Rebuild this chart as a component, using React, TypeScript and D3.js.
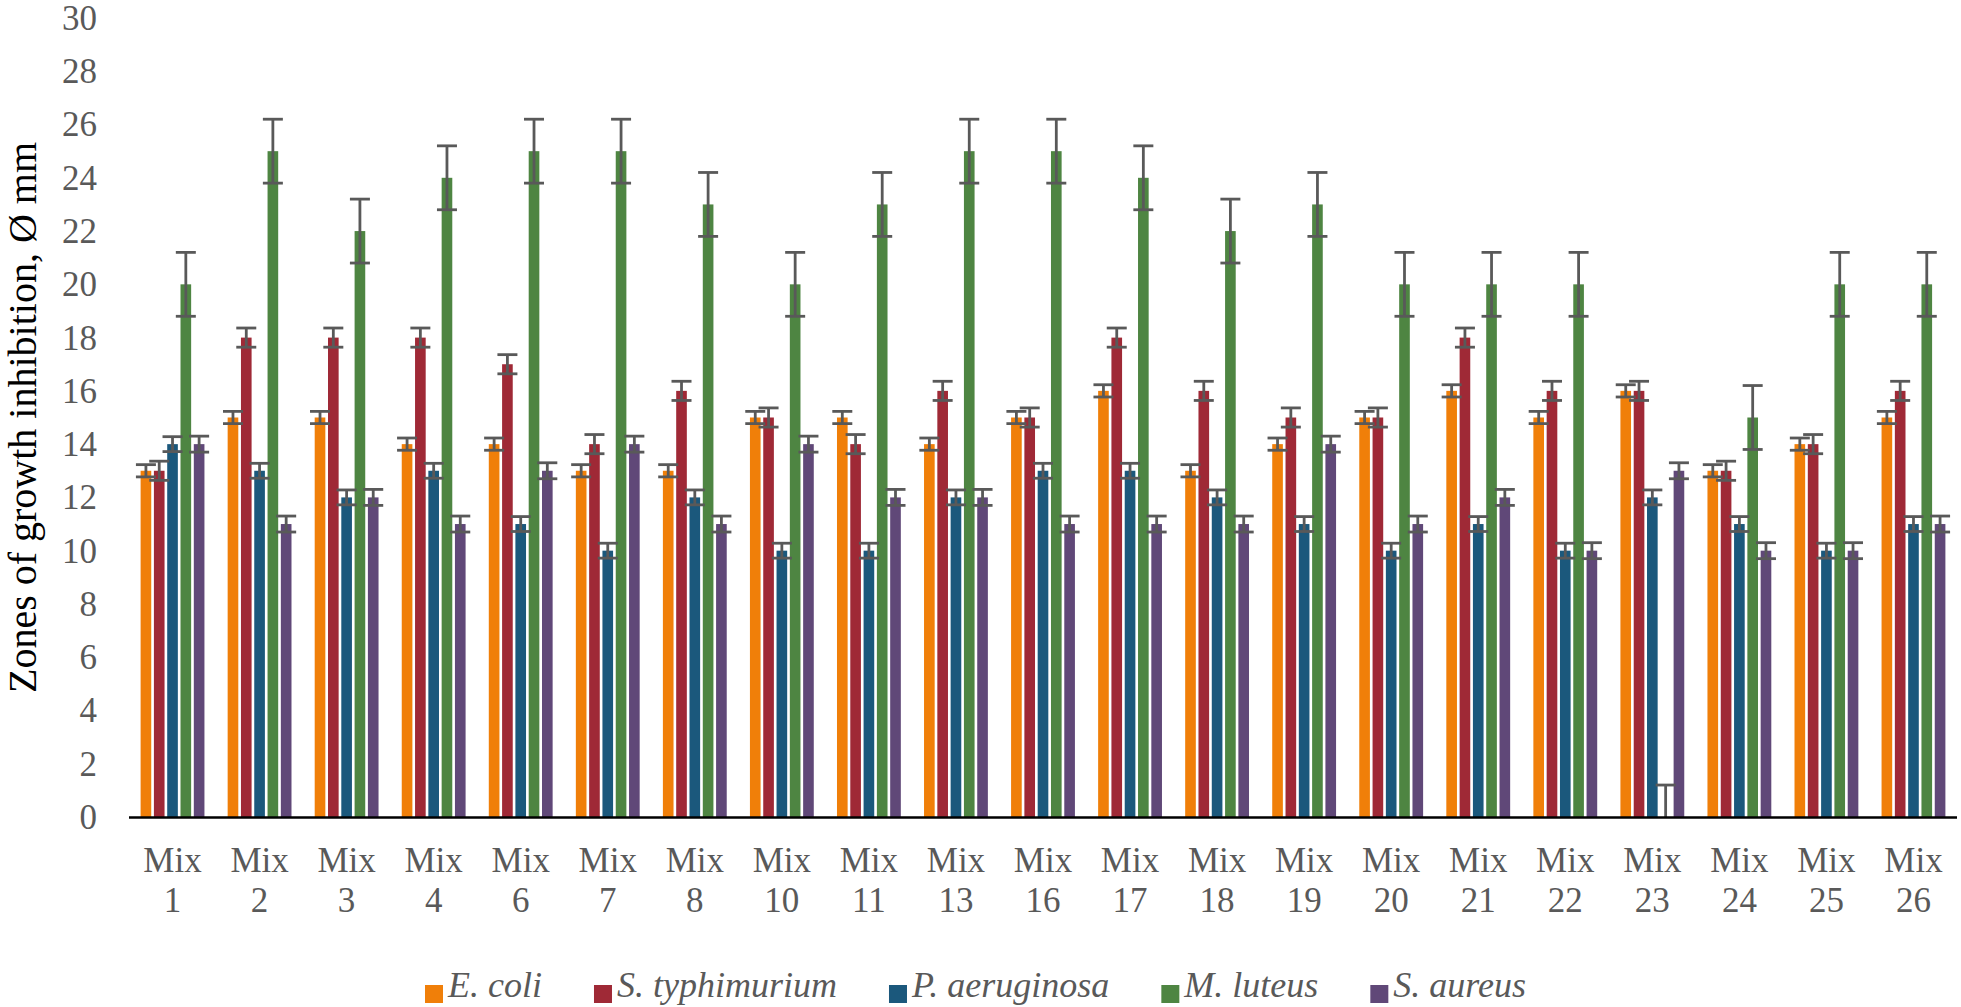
import React, { useEffect, useRef } from "react";
import * as d3 from "d3";

const categories = ["Mix 1", "Mix 2", "Mix 3", "Mix 4", "Mix 6", "Mix 7", "Mix 8", "Mix 10", "Mix 11", "Mix 13", "Mix 16", "Mix 17", "Mix 18", "Mix 19", "Mix 20", "Mix 21", "Mix 22", "Mix 23", "Mix 24", "Mix 25", "Mix 26"];
const seriesNames = ["E. coli", "S. typhimurium", "P. aeruginosa", "M. luteus", "S. aureus"];
const seriesColors = ["#F07F09", "#9F2936", "#1B587C", "#4E8542", "#604878"];

const eColi = [13, 15, 15, 14, 14, 13, 13, 15, 15, 14, 15, 16, 13, 14, 15, 16, 15, 16, 13, 14, 15];
const sTyphimurium = [13, 18, 18, 18, 17, 14, 16, 15, 14, 16, 15, 18, 16, 15, 15, 18, 16, 16, 13, 14, 16];
const pAeruginosa = [14, 13, 12, 13, 11, 10, 12, 10, 10, 12, 13, 13, 12, 11, 10, 11, 10, 12, 11, 10, 11];
const mLuteus = [20, 25, 22, 24, 25, 25, 23, 20, 23, 25, 25, 24, 22, 23, 20, 20, 20, 0, 15, 20, 20];
const sAureus = [14, 11, 12, 11, 13, 14, 11, 14, 12, 12, 11, 11, 11, 14, 11, 12, 10, 13, 10, 10, 11];
const seriesErrors = [0.23, 0.36, 0.28, 1.2, 0.3];

const yTicks = [0, 2, 4, 6, 8, 10, 12, 14, 16, 18, 20, 22, 24, 26, 28, 30];
const yTitle = "Zones of growth inhibition, Ø mm";

const W = 1961;
const H = 1007;
const FONT = "'Liberation Serif', 'Times New Roman', serif";

export default function App() {
  const ref = useRef<SVGSVGElement | null>(null);

  useEffect(() => {
    const svg = d3.select(ref.current);
    svg.selectAll("*").remove();

    const values = [eColi, sTyphimurium, pAeruginosa, mLuteus, sAureus];
    const left = 129, right = 1957, top = 18, bottom = 817;

    const y = d3.scaleLinear().domain([0, 30]).range([bottom, top]);
    const x = d3.scaleBand().domain(categories).range([left, right]).paddingInner(0).paddingOuter(0);
    const bw = x.bandwidth();
    const slot = 13.3;
    const xs = d3.scaleBand().domain(seriesNames)
      .range([bw / 2 - 2.5 * slot, bw / 2 + 2.5 * slot])
      .paddingInner(0.2).paddingOuter(0.1);

    svg.append("defs").append("clipPath").attr("id", "plotclip")
      .append("rect").attr("x", 0).attr("y", 0).attr("width", W).attr("height", bottom);

    // bars
    const barsG = svg.append("g");
    seriesNames.forEach((s, si) => {
      barsG.selectAll(null).data(categories).enter().append("rect")
        .attr("x", (c) => (x(c) as number) + (xs(s) as number))
        .attr("y", (_c, i) => y(values[si][i]))
        .attr("width", xs.bandwidth())
        .attr("height", (_c, i) => bottom - y(values[si][i]))
        .attr("fill", seriesColors[si]);
    });

    // error bars
    const errG = svg.append("g").attr("clip-path", "url(#plotclip)")
      .attr("stroke", "#595959").attr("stroke-width", 2.8).attr("fill", "none");
    const capW = 20;
    seriesNames.forEach((s, si) => {
      categories.forEach((c, i) => {
        const v = values[si][i];
        const e = seriesErrors[si];
        const cx = (x(c) as number) + (xs(s) as number) + xs.bandwidth() / 2;
        const y1 = y(v + e), y2 = y(v - e);
        errG.append("line").attr("x1", cx).attr("x2", cx).attr("y1", y1).attr("y2", y2);
        errG.append("line").attr("x1", cx - capW / 2).attr("x2", cx + capW / 2).attr("y1", y1).attr("y2", y1);
        errG.append("line").attr("x1", cx - capW / 2).attr("x2", cx + capW / 2).attr("y1", y2).attr("y2", y2);
      });
    });

    // x axis line
    svg.append("line").attr("x1", left).attr("x2", right).attr("y1", bottom + 0.5).attr("y2", bottom + 0.5)
      .attr("stroke", "#000").attr("stroke-width", 2.7);

    // y tick labels
    svg.append("g").selectAll("text").data(yTicks).enter().append("text")
      .attr("x", 97).attr("y", (d) => y(d)).attr("dy", "0.34em")
      .attr("text-anchor", "end").attr("font-family", FONT).attr("font-size", 35)
      .attr("fill", "#595959").text((d) => String(d));

    // x labels
    const xl = svg.append("g").attr("font-family", FONT).attr("font-size", 35).attr("fill", "#595959").attr("text-anchor", "middle");
    categories.forEach((c) => {
      const cx = (x(c) as number) + bw / 2;
      const parts = c.split(" ");
      xl.append("text").attr("x", cx).attr("y", 872).text(parts[0]);
      xl.append("text").attr("x", cx).attr("y", 912).text(parts[1]);
    });

    // y title
    svg.append("text").attr("transform", `translate(36, ${(top + bottom) / 2}) rotate(-90)`)
      .attr("text-anchor", "middle").attr("font-family", FONT).attr("font-size", 40)
      .attr("fill", "#000").text(yTitle);

    // legend
    const lg = svg.append("g");
    let lx = 425;
    seriesNames.forEach((s, si) => {
      lg.append("rect").attr("x", lx).attr("y", 985).attr("width", 18).attr("height", 18).attr("fill", seriesColors[si]);
      const t = lg.append("text").attr("x", lx + 23).attr("y", 997)
        .attr("font-family", FONT).attr("font-size", 36).attr("font-style", "italic")
        .attr("fill", "#595959").text(s);
      const w = (t.node() as SVGTextElement).getComputedTextLength();
      lx = lx + 23 + w + 52;
    });
  }, []);

  return (
    <svg ref={ref} width={W} height={H}
      style={{ position: "absolute", left: 0, top: 0, display: "block", background: "#fff" }} />
  );
}
